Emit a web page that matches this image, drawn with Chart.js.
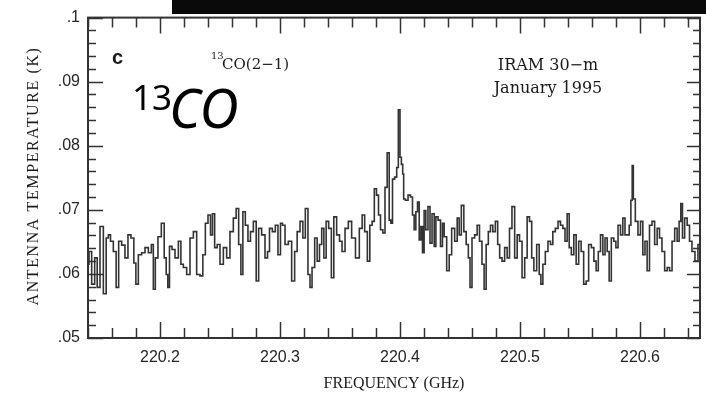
<!DOCTYPE html>
<html>
<head>
<meta charset="utf-8">
<script src="https://cdn.jsdelivr.net/npm/chart.js@4.4.0/dist/chart.umd.min.js"></script>
<style>
  html, body { margin: 0; padding: 0; background: #fff; }
  #wrap { position: relative; width: 706px; height: 397px; }
</style>
</head>
<body>
<div id="wrap"><canvas id="spec" width="706" height="397"></canvas></div>
<script>
// 13CO(2-1) spectrum, IRAM 30-m, January 1995
const freq = [
  220.1400, 220.1417, 220.1444, 220.1467, 220.1486, 220.1514, 220.1542, 220.1561, 220.1578, 220.1597,
  220.1625, 220.1644, 220.1667, 220.1694, 220.1722, 220.1744, 220.1772, 220.1792, 220.1806, 220.1833,
  220.1861, 220.1889, 220.1917, 220.1939, 220.1950, 220.1972, 220.1994, 220.2028, 220.2042, 220.2061,
  220.2069, 220.2089, 220.2111, 220.2139, 220.2167, 220.2181, 220.2208, 220.2236, 220.2264, 220.2292,
  220.2319, 220.2347, 220.2367, 220.2389, 220.2411, 220.2431, 220.2444, 220.2467, 220.2486, 220.2514,
  220.2542, 220.2569, 220.2597, 220.2625, 220.2644, 220.2667, 220.2681, 220.2700, 220.2722, 220.2744,
  220.2764, 220.2792, 220.2811, 220.2833, 220.2861, 220.2889, 220.2903, 220.2922, 220.2950, 220.2972,
  220.2994, 220.3014, 220.3028, 220.3056, 220.3083, 220.3111, 220.3133, 220.3153, 220.3181, 220.3200,
  220.3222, 220.3244, 220.3256, 220.3278, 220.3300, 220.3319, 220.3339, 220.3356, 220.3375, 220.3394,
  220.3417, 220.3439, 220.3458, 220.3486, 220.3506, 220.3528, 220.3556, 220.3583, 220.3611, 220.3647,
  220.3675, 220.3694, 220.3717, 220.3739, 220.3758, 220.3778, 220.3794, 220.3814, 220.3828, 220.3847,
  220.3867, 220.3883, 220.3903, 220.3917, 220.3931, 220.3944, 220.3967, 220.3978, 220.3994, 220.4006,
  220.4017, 220.4028, 220.4033, 220.4056, 220.4078, 220.4097, 220.4111, 220.4125, 220.4139, 220.4153,
  220.4167, 220.4181, 220.4194, 220.4208, 220.4222, 220.4244, 220.4256, 220.4278, 220.4292, 220.4306,
  220.4328, 220.4347, 220.4361, 220.4375, 220.4403, 220.4417, 220.4444, 220.4467, 220.4486, 220.4500,
  220.4522, 220.4542, 220.4561, 220.4578, 220.4589, 220.4611, 220.4633, 220.4653, 220.4672, 220.4694,
  220.4708, 220.4728, 220.4744, 220.4764, 220.4783, 220.4806, 220.4822, 220.4839, 220.4861, 220.4883,
  220.4903, 220.4922, 220.4944, 220.4967, 220.4986, 220.5006, 220.5028, 220.5050, 220.5069, 220.5089,
  220.5106, 220.5125, 220.5153, 220.5167, 220.5181, 220.5200, 220.5222, 220.5244, 220.5264, 220.5283,
  220.5306, 220.5328, 220.5347, 220.5367, 220.5383, 220.5403, 220.5417, 220.5439, 220.5458, 220.5478,
  220.5500, 220.5519, 220.5542, 220.5561, 220.5583, 220.5606, 220.5625, 220.5644, 220.5661, 220.5681,
  220.5700, 220.5717, 220.5736, 220.5750, 220.5772, 220.5792, 220.5806, 220.5828, 220.5847, 220.5867,
  220.5883, 220.5903, 220.5917, 220.5931, 220.5939, 220.5950, 220.5972, 220.5994, 220.6014, 220.6033,
  220.6050, 220.6069, 220.6089, 220.6111, 220.6133, 220.6153, 220.6172, 220.6194, 220.6217, 220.6236,
  220.6256, 220.6278, 220.6300, 220.6319, 220.6333, 220.6347, 220.6361, 220.6383, 220.6403, 220.6422,
  220.6444, 220.6472, 220.6494
];
const temp = [
  .0615, .0635, .0584, .0625, .0579, .0674, .0569, .0656, .0661, .0651,
  .0635, .0579, .0651, .0645, .0625, .0661, .0656, .0617, .0584, .0630,
  .0633, .0641, .0633, .0646, .0576, .0625, .0658, .0679, .0625, .0599,
  .0579, .0643, .0638, .0625, .0651, .0615, .0610, .0599, .0656, .0666,
  .0599, .0597, .0630, .0679, .0692, .0661, .0694, .0641, .0646, .0615,
  .0641, .0625, .0666, .0687, .0702, .0646, .0599, .0697, .0676, .0651,
  .0666, .0682, .0589, .0671, .0661, .0625, .0635, .0671, .0666, .0676,
  .0630, .0679, .0676, .0646, .0651, .0589, .0635, .0666, .0682, .0656,
  .0702, .0599, .0579, .0610, .0656, .0620, .0646, .0671, .0625, .0682,
  .0671, .0594, .0689, .0661, .0651, .0635, .0671, .0682, .0656, .0625,
  .0671, .0692, .0666, .0620, .0676, .0682, .0733, .0723, .0692, .0669,
  .0664, .0735, .0789, .0684, .0679, .0748, .0751, .0766, .0856, .0782,
  .0771, .0756, .0717, .0715, .0723, .0720, .0692, .0669, .0697, .0712,
  .0653, .0674, .0633, .0699, .0669, .0705, .0648, .0694, .0643, .0689,
  .0684, .0643, .0679, .0658, .0605, .0630, .0671, .0651, .0687, .0661,
  .0707, .0666, .0646, .0625, .0579, .0656, .0661, .0676, .0651, .0615,
  .0576, .0646, .0666, .0676, .0666, .0682, .0646, .0625, .0620, .0641,
  .0625, .0671, .0705, .0625, .0661, .0651, .0594, .0625, .0689, .0682,
  .0625, .0605, .0646, .0599, .0584, .0615, .0635, .0651, .0646, .0666,
  .0671, .0682, .0676, .0671, .0651, .0694, .0641, .0630, .0661, .0615,
  .0651, .0635, .0584, .0589, .0646, .0641, .0620, .0605, .0635, .0661,
  .0630, .0656, .0635, .0589, .0656, .0651, .0641, .0676, .0661, .0687,
  .0661, .0661, .0676, .0715, .0769, .0717, .0682, .0661, .0682, .0630,
  .0651, .0605, .0676, .0682, .0646, .0671, .0656, .0635, .0605, .0610,
  .0605, .0651, .0671, .0651, .0682, .0710, .0656, .0687, .0676, .0651,
  .0635, .0620, .0646
];
const xTicks = [220.2, 220.3, 220.4, 220.5, 220.6];
const xTickLabels = ['220.2', '220.3', '220.4', '220.5', '220.6'];
const yTicks = [0.05, 0.06, 0.07, 0.08, 0.09, 0.1];
const yTickLabels = ['.05', '.06', '.07', '.08', '.09', '.1'];

const ink = '#262626';

// frame with inward ticks on all four sides, plus the text annotations
const framePlugin = {
  id: 'frame',
  afterDatasetsDraw(chart) {
    const ctx = chart.ctx;
    const a = chart.chartArea;
    const x = chart.scales.x, y = chart.scales.y;
    ctx.save();
    ctx.strokeStyle = '#333';
    ctx.lineWidth = 1.5;
    ctx.beginPath();
    for (let k = Math.ceil(x.min * 50 - 1e-6); k <= Math.floor(x.max * 50 + 1e-6); k++) {
      const px = Math.round(x.getPixelForValue(k / 50)) + 0.5;
      const len = k % 5 === 0 ? 16 : 10;
      ctx.moveTo(px, a.bottom); ctx.lineTo(px, a.bottom - len);
      ctx.moveTo(px, a.top); ctx.lineTo(px, a.top + len);
    }
    for (let k = Math.ceil(y.min * 500 - 1e-6); k <= Math.floor(y.max * 500 + 1e-6); k++) {
      const py = Math.round(y.getPixelForValue(k / 500)) + 0.5;
      const major = k % 5 === 0;
      ctx.moveTo(a.left, py); ctx.lineTo(a.left + (major ? 15 : 8), py);
      ctx.moveTo(a.right, py); ctx.lineTo(a.right - (major ? 13 : 7), py);
    }
    ctx.stroke();
    ctx.lineWidth = 2;
    ctx.strokeRect(a.left, a.top, a.right - a.left, a.bottom - a.top);
    ctx.restore();
  },
  afterDraw(chart) {
    const ctx = chart.ctx;
    ctx.save();
    ctx.fillStyle = '#1a1a1a';
    ctx.textBaseline = 'alphabetic';

    // y axis title
    ctx.save();
    ctx.translate(33, 176);
    ctx.rotate(-Math.PI / 2);
    ctx.font = '16px "Liberation Serif"';
    ctx.letterSpacing = '1.6px';
    ctx.textAlign = 'center';
    ctx.fillText('ANTENNA TEMPERATURE (K)', 0, 5);
    ctx.restore();

    ctx.textAlign = 'left';
    ctx.font = 'bold 20px "Liberation Sans"';
    ctx.fillText('c', 112, 64);

    ctx.font = '10px "DejaVu Serif"';
    ctx.fillText('13', 211, 59);
    ctx.font = '15px "DejaVu Serif"';
    ctx.fillText('CO(2\u22121)', 222, 69);

    ctx.textAlign = 'center';
    ctx.font = '16px "DejaVu Serif"';
    ctx.fillText('IRAM 30\u2212m', 548, 70);
    ctx.fillText('January 1995', 548, 93);

    ctx.fillStyle = '#000';
    ctx.textAlign = 'left';
    ctx.font = '35px "Noto Sans"';
    ctx.fillText('13', 132, 110);
    ctx.font = 'italic 54px "Noto Sans"';
    ctx.fillText('CO', 169, 128);

    // black strip across the top
    ctx.fillStyle = '#0a0a0a';
    ctx.fillRect(172, 0, 534, 14);
    ctx.restore();
  }
};

new Chart(document.getElementById('spec'), {
  type: 'line',
  data: {
    datasets: [{
      data: freq.map((f, i) => ({ x: f, y: temp[i] })),
      borderColor: '#333',
      borderWidth: 1.6,
      pointRadius: 0,
      stepped: 'middle',
      fill: false
    }]
  },
  options: {
    responsive: false,
    animation: false,
    devicePixelRatio: 1,
    layout: { padding: { top: 13, right: 6, left: 0, bottom: 0 } },
    plugins: { legend: { display: false }, tooltip: { enabled: false } },
    scales: {
      x: {
        type: 'linear',
        min: 220.14,
        max: 220.65,
        afterBuildTicks: s => { s.ticks = xTicks.map(v => ({ value: v })); },
        afterFit: s => { s.height = 59; },
        grid: { display: false, drawTicks: false },
        border: { display: false },
        ticks: {
          autoSkip: false,
          maxRotation: 0,
          padding: 10,
          color: ink,
          font: { family: 'Liberation Sans', size: 16 },
          callback: (v, i) => xTickLabels[i]
        },
        title: {
          display: true,
          text: 'FREQUENCY (GHz)',
          color: '#1a1a1a',
          font: { family: 'Liberation Serif', size: 16 },
          padding: { top: 0, bottom: 4 }
        }
      },
      y: {
        type: 'linear',
        min: 0.05,
        max: 0.1,
        afterBuildTicks: s => { s.ticks = yTicks.map(v => ({ value: v })); },
        afterFit: s => { s.width = 88; },
        grid: { display: false, drawTicks: false },
        border: { display: false },
        ticks: {
          autoSkip: false,
          padding: 8,
          color: ink,
          font: { family: 'Liberation Sans', size: 16 },
          callback: (v, i) => yTickLabels[i]
        }
      }
    }
  },
  plugins: [framePlugin]
});
</script>
</body>
</html>
